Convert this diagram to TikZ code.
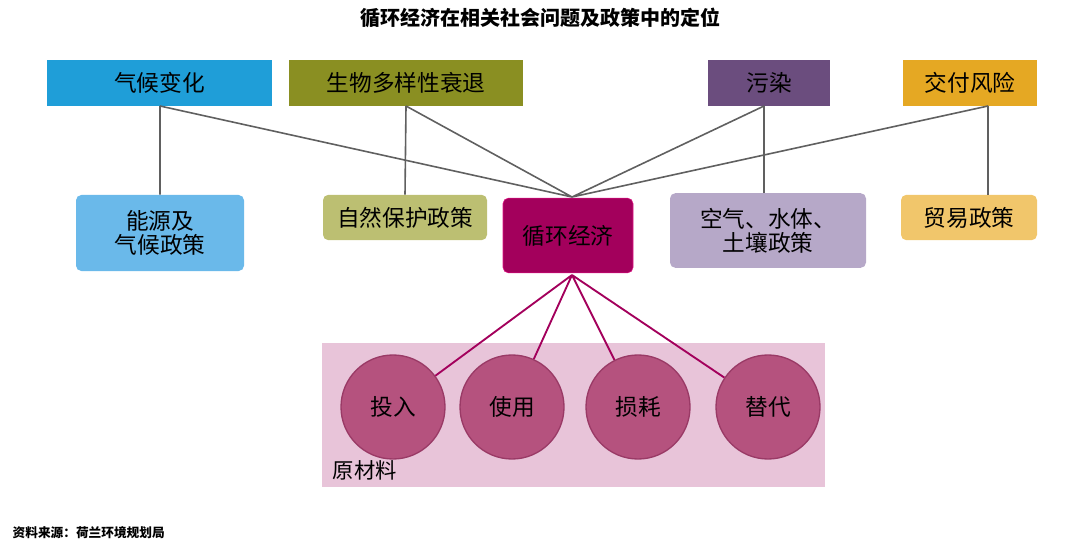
\documentclass[tikz,border=0pt]{standalone}
\usepackage{fontspec}
\setmainfont{Noto Sans CJK SC}
\begin{document}
\begin{tikzpicture}[x=0.75pt,y=-0.75pt,
 top/.style={rectangle,inner sep=0,font=\fontsize{17}{19}\selectfont},
 sec/.style={rectangle,rounded corners=4pt,inner sep=0,align=center,font=\fontsize{17}{18}\selectfont},
 circ/.style={circle,fill=cir,draw=cird,line width=1pt,minimum size=78pt,inner sep=0,font=\fontsize{17}{19}\selectfont},
 gl/.style={draw=gray!75!black,line width=1.2pt},
 ml/.style={draw=mag,line width=1.4pt}]
\definecolor{c1}{HTML}{1F9ED8}\definecolor{c2}{HTML}{8A8F22}\definecolor{c3}{HTML}{6B4D7E}\definecolor{c4}{HTML}{E5A823}
\definecolor{d1}{HTML}{6AB9EA}\definecolor{d2}{HTML}{BCBF72}\definecolor{d3}{HTML}{B6A8C8}\definecolor{d4}{HTML}{F1C66B}
\definecolor{mag}{HTML}{A3005C}\definecolor{pk}{HTML}{E8C4D9}\definecolor{cir}{HTML}{B5527E}\definecolor{cird}{HTML}{9A3A66}
\useasboundingbox (0,0) rectangle (1080,545);
\node[font=\bfseries\fontsize{15}{17}\selectfont] (title) at (540,18) {循环经济在相关社会问题及政策中的定位};
\fill[pk] (322,343) rectangle (825,487);
\node[anchor=west,font=\fontsize{16}{18}\selectfont] (raw) at (328,470) {原材料};
\node[top,fill=c1,minimum width=168.75pt,minimum height=34.5pt] (t1) at (159.5,83) {气候变化};
\node[top,fill=c2,minimum width=175.5pt,minimum height=34.5pt] (t2) at (406,83) {生物多样性衰退};
\node[top,fill=c3,minimum width=91.5pt,minimum height=34.5pt] (t3) at (769,83) {污染};
\node[top,fill=c4,minimum width=100.5pt,minimum height=34.5pt] (t4) at (970,83) {交付风险};
\node[sec,fill=d1,minimum width=126pt,minimum height=57pt] (s1) at (160,233) {能源及\\气候政策};
\node[sec,fill=d2,minimum width=123pt,minimum height=34pt] (s2) at (405,217.5) {自然保护政策};
\node[sec,fill=mag,draw=magenta!80!mag,minimum width=97.5pt,minimum height=56pt] (ce) at (568,235.5) {循环经济};
\node[sec,fill=d3,minimum width=147pt,minimum height=56pt] (s3) at (768,230.5) {空气、水体、\\土壤政策};
\node[sec,fill=d4,minimum width=102pt,minimum height=34pt] (s4) at (969,217.5) {贸易政策};
\coordinate (hub) at (572,197);
\coordinate (b1) at (160,106);\coordinate (b2) at (406,106);\coordinate (b3) at (764,106);\coordinate (b4) at (988,106);
\draw[gl] (b1)--(hub) (b2)--(hub) (b3)--(hub) (b4)--(hub);
\draw[gl] (b1)--(s1.north) (b2)--(s2.north) (b3)--(764,193) (b4)--(988,195);
\node[circ] (i1) at (393,407) {投入};
\node[circ] (i2) at (512,407) {使用};
\node[circ] (i3) at (638,407) {损耗};
\node[circ] (i4) at (768,407) {替代};
\coordinate (hb) at (572,275);
\draw[ml] (hb)--(i1) (hb)--(i2) (hb)--(i3) (hb)--(i4);
\node[anchor=west,font=\bfseries\fontsize{9.5}{11}\selectfont] (src) at (8,533) {资料来源：荷兰环境规划局};
\end{tikzpicture}
\end{document}
